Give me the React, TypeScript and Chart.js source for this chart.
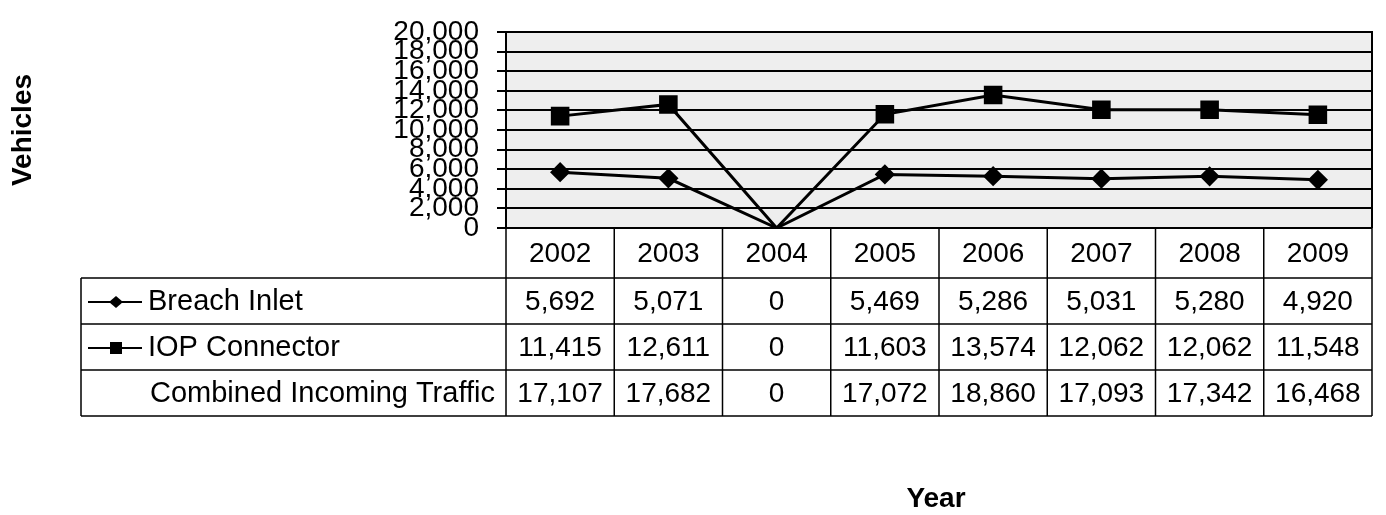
import { useEffect, useRef } from 'react';
import { Chart, registerables } from 'chart.js';

Chart.register(...registerables);

const years = ['2002', '2003', '2004', '2005', '2006', '2007', '2008', '2009'];
const breachInlet = [5692, 5071, 0, 5469, 5286, 5031, 5280, 4920];
const iopConnector = [11415, 12611, 0, 11603, 13574, 12062, 12062, 11548];
const combinedTraffic = [17107, 17682, 0, 17072, 18860, 17093, 17342, 16468];
const yTicks = [0, 2000, 4000, 6000, 8000, 10000, 12000, 14000, 16000, 18000, 20000];
const seriesNames = ['Breach Inlet', 'IOP Connector', 'Combined Incoming Traffic'];
const yTitle = 'Vehicles';
const xTitle = 'Year';

const FONT = '"Liberation Sans", Arial, sans-serif';

const fmt = (v: number) => v.toLocaleString('en-US');

const tablePlugin = {
  id: 'dataTable',
  beforeDraw(chart: any) {
    const { ctx, chartArea: a } = chart;
    ctx.save();
    ctx.fillStyle = '#eeeeee';
    ctx.fillRect(a.left, a.top, a.right - a.left, a.bottom - a.top);
    ctx.restore();
  },
  afterDraw(chart: any) {
    const { ctx, chartArea: a } = chart;
    const xs = chart.scales.x;
    const n = years.length;
    const colW = (a.right - a.left) / n;
    const headerBottom = a.bottom + 50;
    const rowH = 46;
    const legendLeft = 81;
    const tableBottom = headerBottom + rowH * 3;
    ctx.save();
    ctx.strokeStyle = '#000';
    ctx.lineWidth = 2;
    ctx.beginPath();
    ctx.moveTo(a.left, a.top);
    ctx.lineTo(a.right, a.top);
    ctx.lineTo(a.right, a.bottom);
    ctx.stroke();

    ctx.lineWidth = 1.5;
    ctx.beginPath();
    for (let i = 0; i <= n; i++) {
      const x = a.left + i * colW;
      ctx.moveTo(x, a.bottom);
      ctx.lineTo(x, tableBottom);
    }
    for (let r = 0; r <= 3; r++) {
      const y = headerBottom + r * rowH;
      ctx.moveTo(legendLeft, y);
      ctx.lineTo(a.right, y);
    }
    ctx.moveTo(legendLeft, headerBottom);
    ctx.lineTo(legendLeft, tableBottom);
    ctx.stroke();

    ctx.fillStyle = '#000';
    ctx.font = `28px ${FONT}`;
    ctx.textAlign = 'center';
    ctx.textBaseline = 'middle';
    const headerY = (a.bottom + headerBottom) / 2 + 1;
    years.forEach((yr, i) => {
      ctx.fillText(yr, xs.getPixelForValue(i), headerY);
    });
    const rows = [breachInlet, iopConnector, combinedTraffic];
    rows.forEach((vals, r) => {
      const cy = headerBottom + r * rowH + rowH / 2 + 1;
      vals.forEach((v, i) => {
        ctx.fillText(fmt(v), xs.getPixelForValue(i), cy);
      });
    });

    ctx.textAlign = 'left';
    ctx.font = `29px ${FONT}`;
    seriesNames.forEach((name, r) => {
      const cy = headerBottom + r * rowH + rowH / 2 + 1;
      ctx.fillText(name, r < 2 ? 148 : 150, cy);
      if (r < 2) {
        ctx.lineWidth = 2;
        ctx.beginPath();
        ctx.moveTo(88, cy);
        ctx.lineTo(142, cy);
        ctx.stroke();
        const mx = 116;
        ctx.beginPath();
        if (r === 0) {
          ctx.moveTo(mx - 7, cy);
          ctx.lineTo(mx, cy - 6);
          ctx.lineTo(mx + 7, cy);
          ctx.lineTo(mx, cy + 6);
          ctx.closePath();
        } else {
          ctx.rect(mx - 6, cy - 6, 12, 12);
        }
        ctx.fill();
      }
    });

    ctx.font = `bold 28px ${FONT}`;
    ctx.textAlign = 'center';
    ctx.textBaseline = 'middle';
    ctx.fillText(xTitle, 936, 499);
    ctx.translate(23, (a.top + a.bottom) / 2);
    ctx.rotate(-Math.PI / 2);
    ctx.fillText(yTitle, 0, 0);
    ctx.restore();
  },
};

export default function App() {
  const ref = useRef<HTMLCanvasElement | null>(null);
  useEffect(() => {
    if (!ref.current) return;
    const chart = new Chart(ref.current, {
      type: 'line',
      data: {
        labels: years,
        datasets: [
          {
            label: seriesNames[0],
            data: breachInlet,
            borderColor: '#000',
            backgroundColor: '#000',
            borderWidth: 3,
            pointStyle: 'rectRot',
            pointRadius: (c: any) => (c.raw === 0 ? 0 : 8),
            pointBackgroundColor: '#000',
            pointBorderColor: '#000',
            tension: 0,
          },
          {
            label: seriesNames[1],
            data: iopConnector,
            borderColor: '#000',
            backgroundColor: '#000',
            borderWidth: 3,
            pointStyle: 'rect',
            pointRadius: (c: any) => (c.raw === 0 ? 0 : 11),
            pointBackgroundColor: '#000',
            pointBorderColor: '#000',
            tension: 0,
          },
          {
            label: seriesNames[2],
            data: combinedTraffic,
            showLine: false,
            pointRadius: 0,
            borderColor: 'rgba(0,0,0,0)',
            backgroundColor: 'rgba(0,0,0,0)',
          },
        ],
      },
      options: {
        animation: false,
        responsive: false,
        devicePixelRatio: 1,
        layout: { padding: { left: 0, right: 8, top: 17, bottom: 287 } },
        plugins: { legend: { display: false }, tooltip: { enabled: false } },
        scales: {
          x: {
            display: false,
            offset: true,
          },
          y: {
            min: 0,
            max: 20000,
            afterFit: (s: any) => {
              s.width = 506;
            },
            afterBuildTicks: (s: any) => {
              s.ticks = yTicks.map((v) => ({ value: v }));
            },
            border: { display: true, color: '#000', width: 2 },
            grid: { color: '#000', lineWidth: 2, tickLength: 9, drawTicks: true },
            ticks: {
              autoSkip: false,
              padding: 18,
              color: '#000',
              font: { family: FONT, size: 28, lineHeight: 1 },
              callback: (v: any) => fmt(Number(v)),
            },
          },
        },
      },
      plugins: [tablePlugin],
    });
    return () => chart.destroy();
  }, []);
  return (
    <div style={{ position: 'fixed', left: 0, top: 0, width: 1386, height: 515, background: '#fff' }}>
      <canvas ref={ref} width={1386} height={515} style={{ width: 1386, height: 515, display: 'block' }} />
    </div>
  );
}
